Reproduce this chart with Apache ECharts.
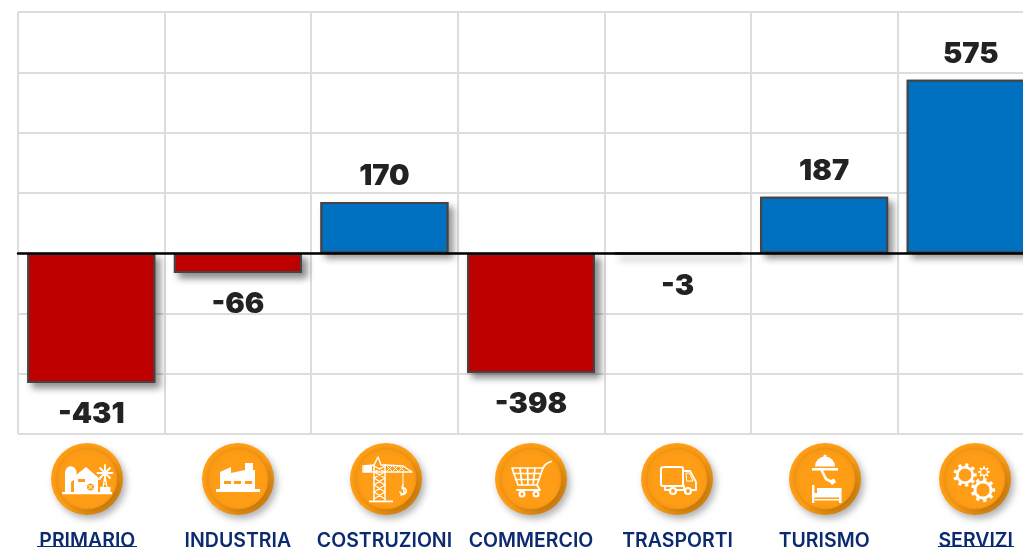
<!DOCTYPE html>
<html><head><meta charset="utf-8">
<style>html,body{margin:0;padding:0;background:#fff}#c{width:1023px;height:547px}</style>
<script src="https://cdn.jsdelivr.net/npm/echarts@6/dist/echarts.min.js"></script>
</head><body><div id="c"></div>
<script>
const categories = ['PRIMARIO','INDUSTRIA','COSTRUZIONI','COMMERCIO','TRASPORTI','TURISMO','SERVIZI'];
const values = [-431,-66,170,-398,-3,187,575];
const OR='#FF9E16', WH='#fff';

function gearPath(R,r,n){
  let d='';
  for(let i=0;i<n;i++){
    const a=i/n*2*Math.PI, w=Math.PI/n;
    const pts=[[r,a-w*0.95],[r,a-w*0.5],[R,a-w*0.4],[R,a+w*0.4],[r,a+w*0.5],[r,a+w*0.95]];
    pts.forEach((p,j)=>{d+=(i===0&&j===0?'M':'L')+(p[0]*Math.cos(p[1])).toFixed(2)+' '+(p[0]*Math.sin(p[1])).toFixed(2)+' ';});
  }
  return d+'Z';
}
let shapeCount=0;
function reg(d){
  const name='iconShape'+(shapeCount++);
  echarts.graphic.registerShape(name,echarts.graphic.extendPath(d,{}));
  return name;
}
const F=(d,fill)=>({type:reg(d),style:{fill:fill||WH}});
const S=(d,lw,col)=>({type:reg(d),style:{fill:'none',stroke:col||WH,lineWidth:lw||2,lineJoin:'round',lineCap:'round'}});
const R=(x,y,w,h,fill,r)=>({type:'rect',shape:{x,y,width:w,height:h,r:r||0},style:{fill:fill||WH}});
const C=(x,y,r,fill,stroke,lw)=>({type:'circle',shape:{cx:x,cy:y,r},style:{fill:fill||WH,stroke:stroke||null,lineWidth:lw||0}});

const iconFarm=[
  R(-25,13,50,2.2),
  F('M-22 13 L-22 -7 A5.8 6.5 0 0 1 -10.5 -7 L-10.5 -1 L-16 3 L-16 13 Z'),
  F('M-1 -12 L14 1 L11 1 L11 13 L-13 13 L-13 1 L-17 1 Z'),
  R(-9,0,7,3,OR),
  C(3.5,8,3.5,OR),S('M1.5 6 L5.5 10 M5.5 6 L1.5 10',1),
  R(13,8,10.5,5),
  S('M16 8 L18 -4 L20 8 M16.5 5 L19.5 5 M17 1 L19 1',1.2),
  S('M18 -14 L18 2 M10.5 -6 L25.5 -6 M13 -11 L23 -1 M23 -11 L13 -1',1.8)
];
const iconFactory=[
  R(-22,10,44,3),
  F('M-18 10 L-18 -7 L-7 -12 L-7 -6 L7 -9 L7 -16 L15 -16 L15 -9 L17 -9 L17 10 Z'),
  R(-14,2,7,3,OR),R(-4,2,7,3,OR),R(7,2,7,3,OR)
];
const iconCrane=[
  R(-17,21.5,24,1.8),
  S('M-12 21 L-12 -14 M-1 21 L-1 -14',1.5),
  S('M-12 20 L-1 13 L-12 6 L-1 -1 L-12 -7 L-1 -13 M-1 20 L-12 13 L-1 6 L-12 -1 L-1 -7 L-12 -13',1.2),
  S('M-12 -14 L-8 -22 L-5 -14 L-1 -14 L17 -13 L26 -7 L-23 -7 L-23 -13 L-12 -14 Z',1.4),
  S('M1 -13 L6 -8 M6 -13 L1 -8 M7 -13 L12 -8 M12 -13 L7 -8 M13 -13 L18 -8 M18 -13 L13 -8',1),
  R(-22,-14,8,7),
  S('M17 -7 L17 6',1),
  S('M17 6 L16 9 A3.2 3.2 0 1 1 14 13 M17 10 A3.5 3.5 0 0 1 15 16',1.6)
];
const iconCart=[
  S('M-19 -11 L12 -11 L6 6 L-13 6 Z M-17.5 -5.5 L10 -5.5 M-15.5 0.5 L8 0.5 M-11 -11 L-9 6 M-3.5 -11 L-3 6 M4 -11 L2 6',1.7),
  S('M12 -11 L14 -14 Q16 -16 20 -17.5',1.8),
  S('M6 6 L9 11 L-14 11',1.8),
  C(-9,15,2.5,OR,WH,2),C(5,15,2.5,OR,WH,2)
];
const iconTruck=[
  S('M-13 -12 L4 -12 Q6 -12 6 -10 L6 7 L-14 7 Q-16 7 -16 5 L-16 -10 Q-16 -12 -13 -12 Z',2),
  S('M6 -8 L13 -8 L19 3 L19 11 L15 11 M-12 7 L-12 11 L-8 11 M0 11 L7 11 L7 7',1.8),
  S('M9.5 -6 L12.5 -6 L16 2 L10 2 Z',1),
  C(-4,12,3,OR,WH,2.2),C(11,12,3,OR,WH,2.2)
];
const iconHotel=[
  C(0,-23,1.6),
  F('M-10 -12.5 A10 10 0 0 1 10 -12.5 Z'),
  R(-13,-11,26,2.6),
  S('M-3 -8 L1 0 L7 3',2.6),
  F('M4 2 L9 -0.5 L11 3 L7 6 Z'),
  R(-13,6,2.4,18),R(14,9,2.6,15),
  R(-11,14,25,4.5),R(-10,20,24,1.5),
  R(-8,9,5,5),R(-3,9,17,5)
];
const gearA=gearPath(11.8,9,9), gearB=gearPath(12.2,9.4,9), gearC=gearPath(5.8,4,8);
const iconGears=[
  {type:'group',x:-10,y:-4,children:[F(gearA),C(0,0,6.8,OR,WH,0.8)]},
  {type:'group',x:9,y:-7,children:[F(gearC),C(0,0,2.8,OR)]},
  {type:'group',x:8,y:11,children:[F(gearB),C(0,0,7,OR,WH,0.8)]}
];
const icons=[iconFarm,iconFactory,iconCrane,iconCart,iconTruck,iconHotel,iconGears];
const iconX=[87,238,386,531,677,825,975];
const iconY=479;

function badge(i){
  return {type:'group',x:iconX[i],y:iconY,children:[
    {type:'circle',shape:{cx:0,cy:0,r:36},style:{
      fill:{type:'linear',x:0,y:0,x2:1,y2:1,colorStops:[{offset:0,color:OR},{offset:.55,color:OR},{offset:.8,color:'#D9860F'},{offset:1,color:'#B9720C'}]},
      shadowBlur:7,shadowOffsetX:3,shadowOffsetY:4,shadowColor:'rgba(0,0,0,.3)'}},
    {type:'circle',shape:{cx:0,cy:0,r:30},style:{fill:OR,stroke:'#F2930F',lineWidth:1,shadowBlur:5,shadowColor:'rgba(120,70,0,.3)',shadowOffsetX:1,shadowOffsetY:1}},
    {type:'group',children:icons[i]}
  ]};
}
const labelShift={0:'l',6:'r'};
const labelFont={color:'#0B2A6F',fontFamily:'Inter',fontWeight:600,fontSize:19.5};
const barColor=p=>p.value<0?'#BE0000':'#0070C0';
const chart=echarts.init(document.getElementById('c'),null,{renderer:'canvas'});
chart.setOption({
  animation:false,
  backgroundColor:'#fff',
  grid:{left:18,top:12,width:1026,height:422,outerBoundsMode:'none',containLabel:false},
  xAxis:[{
    type:'category',data:categories,position:'bottom',
    axisLine:{show:false,onZero:false},axisTick:{show:false},
    splitLine:{show:true,showMinLine:true,showMaxLine:true,lineStyle:{color:'#DDDDDD',width:2}},
    axisLabel:Object.assign({interval:0,margin:97,hideOverlap:false,
      formatter:(v,i)=>labelShift[i]?`{${labelShift[i]}|${v}}`:v,
      rich:{
        l:Object.assign({padding:[0,8,3,0]},labelFont),
        r:Object.assign({padding:[0,0,3,10]},labelFont)
      }},labelFont)
  },{
    type:'category',data:categories,
    axisLine:{show:true,onZero:true,lineStyle:{color:'#000',width:2.5}},
    axisTick:{show:false},axisLabel:{show:false},splitLine:{show:false},z:5
  }],
  yAxis:{type:'value',min:-600,max:800,interval:200,axisLabel:{show:false},axisLine:{show:false},axisTick:{show:false},
    splitLine:{show:true,lineStyle:{color:'#DDDDDD',width:2}}},
  series:[{
    name:'shadow',type:'bar',data:values,barWidth:128,barGap:'-100%',xAxisIndex:0,silent:true,
    itemStyle:{color:barColor,borderColor:'#444',borderWidth:2,shadowBlur:7,shadowOffsetX:5,shadowOffsetY:5,shadowColor:'rgba(0,0,0,.45)'}
  },{
    name:'saldo',type:'bar',data:values,barWidth:128,barGap:'-100%',xAxisIndex:0,
    itemStyle:{color:barColor,borderColor:'#444',borderWidth:2},
    label:{show:true,position:'outside',distance:14,offset:[0,3],color:'#222',fontFamily:'Inter',fontWeight:900,fontSize:29}
  }],
  graphic:[
    ...categories.map((c,i)=>badge(i)),
    {type:'rect',shape:{x:37,y:546,width:100,height:1.5},style:{fill:'#0B2A6F'}},
    {type:'rect',shape:{x:938,y:546,width:76,height:1.5},style:{fill:'#0B2A6F'}}
  ]
});
</script></body></html>
